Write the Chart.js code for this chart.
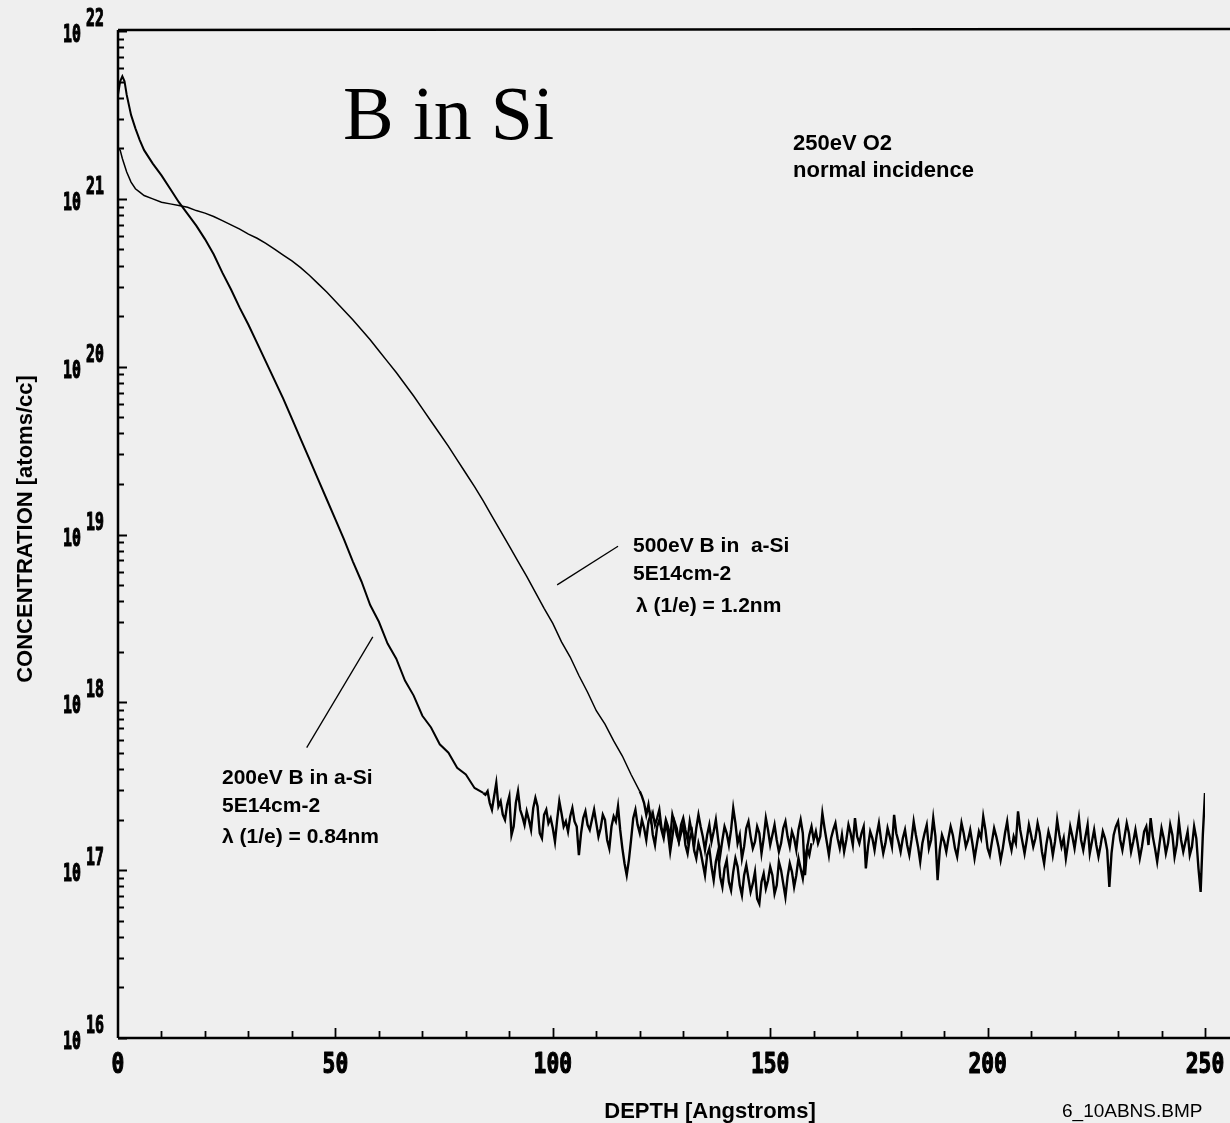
<!DOCTYPE html>
<html>
<head>
<meta charset="utf-8">
<title>B in Si</title>
<script src="https://cdn.jsdelivr.net/npm/chart.js@4/dist/chart.umd.min.js"></script>
<style>
  html, body { margin:0; padding:0; background:#efefef; }
  #wrap { width:1230px; height:1123px; }
</style>
</head>
<body>
<div id="wrap"><canvas id="sims" width="1230" height="1123"></canvas></div>
<script>
// SIMS depth profiles, concentration stored as log10(atoms/cc)

// 200eV implant, smooth part
const depth200 = [0, 0.5, 1, 1.5, 2, 3, 4, 5, 6, 8, 10, 12, 14, 16, 18, 20, 22, 24, 26, 28, 30,
  32, 34, 36, 38, 40, 42, 44, 46, 48, 50, 52, 54, 56, 58, 60, 62, 64, 66, 68, 70, 72, 74, 76, 78, 80, 82, 84];
const log200 = [21.62, 21.70, 21.73, 21.70, 21.62, 21.50, 21.42, 21.35, 21.29, 21.21, 21.14, 21.06, 20.98,
  20.91, 20.84, 20.76, 20.67, 20.56, 20.46, 20.35, 20.25, 20.14, 20.03, 19.92, 19.81, 19.69, 19.57, 19.45,
  19.33, 19.21, 19.09, 18.97, 18.84, 18.72, 18.58, 18.48, 18.35, 18.26, 18.13, 18.04, 17.92, 17.85, 17.75,
  17.70, 17.61, 17.57, 17.49, 17.46];

// 200eV implant, background noise sampled every 0.5 A from 84.5 A
const noise200Start = 84.5;
const noise200 = [
  17.45, 17.47, 17.40, 17.36, 17.44, 17.52, 17.38, 17.41, 17.33, 17.30,
  17.39, 17.44, 17.21, 17.26, 17.40, 17.47, 17.36, 17.32, 17.27, 17.35,
  17.30, 17.24, 17.37, 17.43, 17.38, 17.22, 17.19, 17.33, 17.36, 17.28,
  17.31, 17.25, 17.17, 17.30, 17.41, 17.34, 17.26, 17.29, 17.23, 17.32,
  17.37, 17.29, 17.26, 17.09, 17.22, 17.31, 17.35, 17.27, 17.24, 17.30,
  17.36, 17.28, 17.20, 17.25, 17.33, 17.30, 17.18, 17.13, 17.26, 17.32,
  17.29, 17.38, 17.24, 17.13, 17.04, 16.97, 17.06, 17.18, 17.31, 17.36,
  17.27, 17.22, 17.30, 17.25, 17.18, 17.29, 17.33, 17.21, 17.15, 17.26,
  17.30, 17.24, 17.19, 17.28, 17.22, 17.11, 17.20, 17.29, 17.25, 17.17,
  17.22, 17.27, 17.15, 17.10, 17.19, 17.23, 17.12, 17.07, 17.16, 17.11,
  17.04, 16.97, 17.09, 17.13, 17.02, 16.94, 17.05, 17.11, 16.96, 16.90,
  17.01, 17.06, 16.93, 16.88, 16.99, 17.07, 17.02, 16.91, 16.85, 16.97,
  17.03, 16.95, 16.87, 16.92, 16.99, 16.83, 16.80, 16.93, 16.98, 16.89,
  16.94, 17.02, 16.97, 16.86, 16.91, 17.05, 17.00, 16.92, 16.84, 16.96,
  17.04, 16.99, 16.90, 16.97, 17.07, 17.01, 16.95, 17.06, 17.13, 17.09,
  17.16
];

// 500eV implant, smooth part
const depth500 = [0, 0.5, 1, 2, 3, 4, 5, 6, 8, 10, 12, 14, 16, 18, 20, 22, 24, 26, 28, 30, 32, 34, 36, 38,
  40, 42, 44, 46, 48, 50, 52, 54, 56, 58, 60, 62, 64, 66, 68, 70, 72, 74, 76, 78, 80, 82, 84, 86, 88, 90,
  92, 94, 96, 98, 100, 102, 104, 106, 108, 110, 112, 114, 116, 118, 120];
const log500 = [21.30, 21.29, 21.24, 21.16, 21.10, 21.06, 21.04, 21.02, 21.00, 20.98, 20.97, 20.96, 20.95,
  20.93, 20.915, 20.895, 20.87, 20.845, 20.82, 20.79, 20.765, 20.735, 20.70, 20.665, 20.63, 20.59, 20.545,
  20.495, 20.445, 20.39, 20.335, 20.28, 20.22, 20.16, 20.095, 20.03, 19.965, 19.895, 19.825, 19.75, 19.675,
  19.60, 19.525, 19.445, 19.365, 19.285, 19.20, 19.11, 19.02, 18.93, 18.84, 18.75, 18.655, 18.56, 18.47,
  18.36, 18.27, 18.16, 18.06, 17.95, 17.87, 17.77, 17.68, 17.57, 17.47];

// 500eV implant, background noise sampled every 0.5 A from 120.5 A
const noise500Start = 120.5;
const noise500 = [
  17.44, 17.40, 17.33, 17.39, 17.30, 17.34, 17.27, 17.31, 17.36, 17.25,
  17.22, 17.30, 17.26, 17.19, 17.33, 17.28, 17.21, 17.17, 17.27, 17.31,
  17.24, 17.18, 17.29, 17.22, 17.14, 17.25, 17.33, 17.26, 17.20, 17.12,
  17.21, 17.27, 17.17, 17.23, 17.30, 17.19, 17.09, 17.18, 17.26, 17.22,
  17.15, 17.24, 17.37, 17.28, 17.16, 17.21, 17.07, 17.14, 17.25, 17.29,
  17.20, 17.13, 17.17, 17.26, 17.22, 17.10, 17.19, 17.31, 17.24, 17.15,
  17.21, 17.27, 17.18, 17.11, 17.16, 17.25, 17.29, 17.20, 17.14, 17.23,
  17.19, 17.12, 17.24, 17.30, 17.22, 16.97, 17.13, 17.21, 17.26, 17.18,
  17.23, 17.16, 17.20, 17.34, 17.25, 17.17, 17.09, 17.19, 17.24, 17.28,
  17.19, 17.13, 17.21, 17.11, 17.18, 17.27, 17.22, 17.15, 17.31, 17.20,
  17.16, 17.22, 17.26, 17.01, 17.14, 17.23, 17.19, 17.12, 17.21, 17.28,
  17.18, 17.10, 17.16, 17.25, 17.20, 17.14, 17.33, 17.22, 17.17, 17.11,
  17.19, 17.24, 17.15, 17.09, 17.18, 17.29, 17.21, 17.14, 17.05, 17.16,
  17.22, 17.27, 17.13, 17.18, 17.31, 17.20, 16.94, 17.12, 17.21, 17.17,
  17.11, 17.19, 17.26, 17.21, 17.13, 17.08, 17.18, 17.28, 17.22, 17.14,
  17.18, 17.24, 17.16, 17.07, 17.15, 17.23, 17.19, 17.32, 17.24, 17.13,
  17.09, 17.17, 17.25, 17.20, 17.14, 17.06, 17.13, 17.22, 17.29, 17.18,
  17.12, 17.20, 17.16, 17.35, 17.24, 17.17, 17.10, 17.18, 17.27, 17.21,
  17.14, 17.19, 17.28, 17.22, 17.11, 17.04, 17.15, 17.23, 17.18, 17.09,
  17.17, 17.30, 17.21, 17.14, 17.19, 17.07, 17.16, 17.26, 17.20, 17.13,
  17.22, 17.31, 17.18, 17.12, 17.20, 17.27, 17.10, 17.17, 17.24, 17.15,
  17.08, 17.15, 17.23, 17.19, 17.12, 16.90, 17.10, 17.21, 17.26, 17.29,
  17.18, 17.12, 17.20, 17.28, 17.22, 17.11, 17.17, 17.24, 17.16, 17.07,
  17.14, 17.23, 17.26, 17.15, 17.31, 17.20, 17.13, 17.05, 17.15, 17.25,
  17.19, 17.10, 17.16, 17.27, 17.21, 17.08, 17.15, 17.29, 17.18, 17.11,
  17.17, 17.23, 17.09, 17.14, 17.26, 17.19, 17.01, 16.87, 17.21, 17.46
];
const noiseStep = 0.5;

// axes
const depthTicks = [0, 50, 100, 150, 200, 250];
const decades = [16, 17, 18, 19, 20, 21, 22];

// annotation leader lines, [depth, log10 conc]
const leader500 = [[101.0, 18.70], [115.0, 18.93]];
const leader200 = [[58.6, 18.39], [43.4, 17.73]];

function smoothPoints(depths, logs){
  return depths.map((d,i)=> ({x:d, y:Math.pow(10, logs[i])}));
}
// noise part starts from the last smooth point so the trace stays joined
function noisePoints(depths, logs, start, noise){
  const last = depths.length - 1;
  const pts = [{x:depths[last], y:Math.pow(10, logs[last])}];
  noise.forEach((v,i)=> pts.push({x:start + i*noiseStep, y:Math.pow(10, v)}));
  return pts;
}

// narrow bitmap-like numerals, slightly over-stroked
function narrowText(ctx, txt, x, y, size, sx, align){
  ctx.save();
  ctx.font = 'bold '+size+'px "DejaVu Sans Mono"';
  const w = ctx.measureText(txt).width * sx;
  let left = x;
  if(align==='center') left = x - w/2;
  else if(align==='right') left = x - w;
  ctx.translate(left, y);
  ctx.scale(sx, 1);
  ctx.textAlign = 'left';
  ctx.textBaseline = 'alphabetic';
  ctx.lineWidth = 1.2;
  ctx.lineJoin = 'round';
  ctx.strokeText(txt, 0, 0);
  ctx.fillText(txt, 0, 0);
  ctx.restore();
}

const frame = {
  id:'frame',
  afterDraw(chart){
    const {ctx, chartArea:a, scales:{x, y}} = chart;
    ctx.save();
    ctx.fillStyle = '#000';
    ctx.strokeStyle = '#000';

    // frame: left, top and bottom lines run to the right edge
    ctx.lineWidth = 2.5;
    ctx.beginPath();
    ctx.moveTo(a.left, a.top - 1); ctx.lineTo(1230, a.top - 2);
    ctx.moveTo(a.left, a.top - 1); ctx.lineTo(a.left, a.bottom);
    ctx.moveTo(a.left, a.bottom); ctx.lineTo(1230, a.bottom);
    ctx.stroke();

    // y ticks (inside)
    ctx.lineWidth = 1.8;
    ctx.beginPath();
    decades.forEach(e=>{
      for(let m=1; m<=9; m++){
        if(e===22 && m>1) break;
        const py = Math.round(y.getPixelForValue(m*Math.pow(10,e))) + 0.5;
        const len = m===1 ? 9 : 6;
        ctx.moveTo(a.left, py); ctx.lineTo(a.left + len, py);
      }
    });
    // x ticks every 10 A
    for(let d=10; d<=250; d+=10){
      const px = Math.round(x.getPixelForValue(d)) + 0.5;
      const len = d%50===0 ? 10 : 7;
      ctx.moveTo(px, a.bottom); ctx.lineTo(px, a.bottom - len);
    }
    ctx.stroke();

    // decade labels
    decades.forEach(e=>{
      const py = y.getPixelForValue(Math.pow(10,e));
      narrowText(ctx, '10', a.left - 37, py + 11, 24, 0.62, 'right');
      narrowText(ctx, String(e), a.left - 32, py - 5, 24, 0.62, 'left');
    });
    depthTicks.forEach(d=>{
      narrowText(ctx, String(d), x.getPixelForValue(d), a.bottom + 35, 28, 0.76, 'center');
    });

    // axis titles
    ctx.font = 'bold 22px "Liberation Sans"';
    ctx.textAlign = 'center';
    ctx.fillText('DEPTH [Angstroms]', 710, 1118);
    ctx.save();
    ctx.translate(32, 529);
    ctx.rotate(-Math.PI/2);
    ctx.fillText('CONCENTRATION [atoms/cc]', 0, 0);
    ctx.restore();
    ctx.font = '19px "Liberation Sans"';
    ctx.textAlign = 'left';
    ctx.fillText('6_10ABNS.BMP', 1062, 1117);

    // title and run conditions
    ctx.font = '76px "Liberation Serif"';
    ctx.fillText('B in Si', 343, 139);
    ctx.font = 'bold 22px "Liberation Sans"';
    ctx.fillText('250eV O2', 793, 150);
    ctx.fillText('normal incidence', 793, 177);

    // curve labels
    ctx.font = 'bold 21px "Liberation Sans"';
    ctx.fillText('500eV B in  a-Si', 633, 552);
    ctx.fillText('5E14cm-2', 633, 580);
    ctx.fillText('\u03bb (1/e) = 1.2nm', 636, 612);
    ctx.fillText('200eV B in a-Si', 222, 784);
    ctx.fillText('5E14cm-2', 222, 812);
    ctx.fillText('\u03bb (1/e) = 0.84nm', 222, 843);

    // leader lines
    ctx.lineWidth = 1.3;
    [leader500, leader200].forEach(seg=>{
      ctx.beginPath();
      ctx.moveTo(x.getPixelForValue(seg[0][0]), y.getPixelForValue(Math.pow(10, seg[0][1])));
      ctx.lineTo(x.getPixelForValue(seg[1][0]), y.getPixelForValue(Math.pow(10, seg[1][1])));
      ctx.stroke();
    });
    ctx.restore();
  }
};

const trace = (label, data, width)=> ({
  label, data, borderColor:'#000', borderWidth:width, pointRadius:0, tension:0, fill:false
});

const ctx = document.getElementById('sims').getContext('2d');
new Chart(ctx, {
  type:'line',
  data:{ datasets:[
    trace('200eV B in a-Si', smoothPoints(depth200, log200), 2),
    trace('200eV B in a-Si noise', noisePoints(depth200, log200, noise200Start, noise200), 2.4),
    trace('500eV B in a-Si', smoothPoints(depth500, log500), 1.5),
    trace('500eV B in a-Si noise', noisePoints(depth500, log500, noise500Start, noise500), 2.4)
  ]},
  options:{
    responsive:false, animation:false,
    layout:{ padding:{ left:118, top:31, right:25, bottom:85 } },
    plugins:{ legend:{ display:false }, tooltip:{ enabled:false } },
    scales:{
      x:{ type:'linear', min:0, max:250, display:false },
      y:{ type:'logarithmic', min:1e16, max:1e22, display:false }
    }
  },
  plugins:[frame]
});
</script>
</body>
</html>
